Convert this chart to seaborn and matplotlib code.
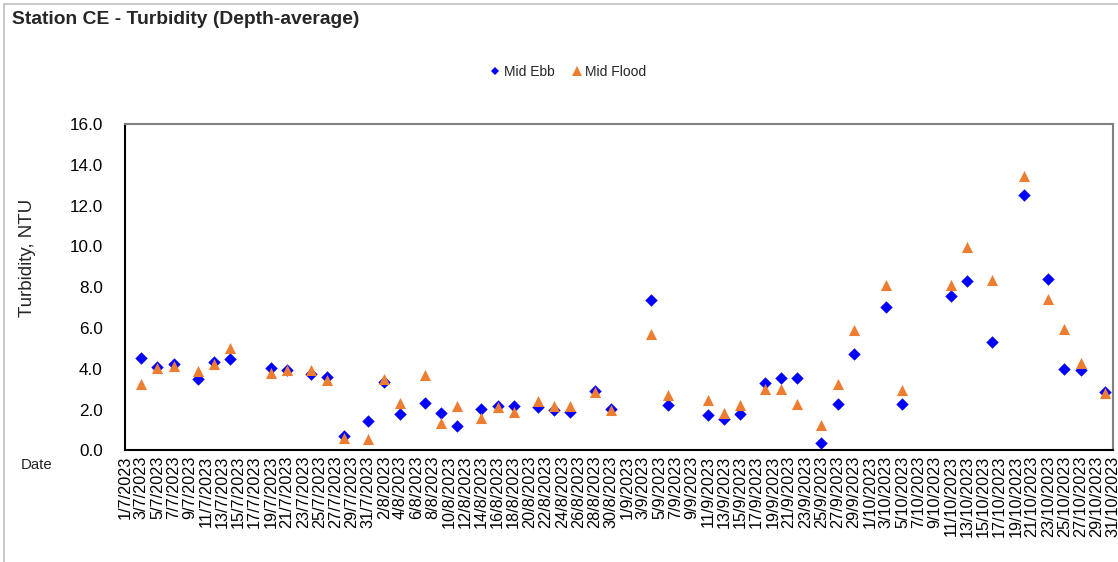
import matplotlib
matplotlib.use("Agg")
import matplotlib.pyplot as plt
from matplotlib.lines import Line2D
import pandas as pd
import seaborn as sns

# ---------------- data ----------------
dates = ["3/7/2023", "5/7/2023", "7/7/2023", "10/7/2023", "12/7/2023", "14/7/2023",
         "19/7/2023", "21/7/2023", "24/7/2023", "26/7/2023", "28/7/2023", "31/7/2023",
         "2/8/2023", "4/8/2023", "7/8/2023", "9/8/2023", "11/8/2023", "14/8/2023",
         "16/8/2023", "18/8/2023", "21/8/2023", "23/8/2023", "25/8/2023", "28/8/2023",
         "30/8/2023", "4/9/2023", "6/9/2023", "11/9/2023", "13/9/2023", "15/9/2023",
         "18/9/2023", "20/9/2023", "22/9/2023", "25/9/2023", "27/9/2023", "29/9/2023",
         "3/10/2023", "5/10/2023", "11/10/2023", "13/10/2023", "16/10/2023", "20/10/2023",
         "23/10/2023", "25/10/2023", "27/10/2023", "30/10/2023"]
mid_ebb = [4.54, 4.08, 4.24, 3.49, 4.33, 4.46,
           4.05, 3.92, 3.74, 3.58, 0.69, 1.45,
           3.36, 1.76, 2.32, 1.83, 1.21, 2.04,
           2.19, 2.17, 2.11, 1.98, 1.88, 2.91,
           2.01, 7.35, 2.24, 1.72, 1.52, 1.76,
           3.28, 3.53, 3.56, 0.34, 2.27, 4.72,
           7.02, 2.27, 7.56, 8.30, 5.31, 12.50,
           8.41, 3.99, 3.94, 2.87]
mid_flood = [3.25, 4.05, 4.11, 3.90, 4.25, 5.01,
             3.77, 3.94, 3.96, 3.47, 0.59, 0.57,
             3.52, 2.30, 3.69, 1.35, 2.16, 1.58,
             2.12, 1.89, 2.42, 2.18, 2.18, 2.87,
             1.98, 5.70, 2.70, 2.45, 1.83, 2.20,
             3.00, 3.00, 2.25, 1.22, 3.23, 5.90,
             8.09, 2.97, 8.09, 9.99, 8.33, 13.44,
             7.42, 5.96, 4.30, 2.82]
series_names = ["Mid Ebb", "Mid Flood"]
title = "Station CE - Turbidity (Depth-average)"
y_label = "Turbidity, NTU"
x_label = "Date"
y_ticks = [0.0, 2.0, 4.0, 6.0, 8.0, 10.0, 12.0, 14.0, 16.0]
x_start, x_end = "1/7/2023", "31/10/2023"

# ---------------- style ----------------
sns.set_theme(style="white")
plt.rcParams['font.family'] = ['Liberation Sans', 'DejaVu Sans']

W, H = 1118, 562
fig = plt.figure(figsize=(W / 100, H / 100), dpi=100)
fig.patch.set_facecolor("white")

ax = fig.add_axes([125 / W, 1 - 450.3 / H, (1113 - 125) / W, (450.3 - 124) / H])

dt = pd.to_datetime(dates, format="%d/%m/%Y")
df_e = pd.DataFrame({"Date": dt, "Turbidity": mid_ebb})
df_f = pd.DataFrame({"Date": dt, "Turbidity": mid_flood})

ebb_color = "#0000FF"
flood_color = "#ED7D31"
sns.scatterplot(data=df_e, x="Date", y="Turbidity", marker="D", s=40,
                color=ebb_color, linewidth=0, ax=ax, legend=False, zorder=3)
sns.scatterplot(data=df_f, x="Date", y="Turbidity", marker="^", s=64,
                color=flood_color, linewidth=0, ax=ax, legend=False, zorder=4)

x0 = pd.to_datetime(x_start, format="%d/%m/%Y")
x1 = pd.to_datetime(x_end, format="%d/%m/%Y")
ax.set_xlim(x0, x1)
ax.set_ylim(y_ticks[0], y_ticks[-1])

tick_dates = pd.date_range(x0, x1, freq="2D")
ax.set_xticks(tick_dates)
ax.set_xticklabels([f"{d.day}/{d.month}/{d.year}" for d in tick_dates],
                   rotation=90, fontsize=11.7)
ax.set_yticks(y_ticks)
ax.set_yticklabels([f"{v:.1f}" for v in y_ticks], fontsize=12.3)

ax.tick_params(axis="x", direction="in", length=3.6, width=0.8, color="#808080",
               pad=4, labelcolor="black")
ax.tick_params(axis="y", direction="in", length=3.6, width=0.8, color="#808080",
               pad=16, labelcolor="black")
ax.set_xlabel("")
ax.set_ylabel("")

for side in ["left", "bottom"]:
    ax.spines[side].set_color("black")
    ax.spines[side].set_linewidth(1.5)
for side in ["top", "right"]:
    ax.spines[side].set_color("#808080")
    ax.spines[side].set_linewidth(1.5)
ax.grid(False)

# texts
fig.text(12 / W, 1 - 20 / H, title, fontsize=13.9, fontweight="bold",
         ha="left", va="center")
fig.text(28 / W, 1 - 258 / H, y_label, rotation=90, fontsize=13.5,
         ha="center", va="center")
fig.text(21 / W, 1 - 465 / H, x_label, fontsize=10.8, ha="left", va="center")

# legend
handles = [Line2D([], [], linestyle="none", marker="D", markersize=4.5,
                  markerfacecolor=ebb_color, markeredgewidth=0),
           Line2D([], [], linestyle="none", marker="^", markersize=6.5,
                  markerfacecolor=flood_color, markeredgewidth=0)]
fig.legend(handles, series_names, loc="center", bbox_to_anchor=(568 / W, 1 - 72 / H),
           ncol=2, frameon=False, fontsize=10, handlelength=0.8,
           handletextpad=0.2, columnspacing=1.2)

# outer chart frame
fig.add_artist(Line2D([4 / W, 4 / W], [0, 1 - 4 / H], transform=fig.transFigure,
                      color="#BFBFBF", linewidth=1.2))
fig.add_artist(Line2D([4 / W, 1], [1 - 4 / H, 1 - 4 / H], transform=fig.transFigure,
                      color="#BFBFBF", linewidth=1.2))

fig.savefig("out.png", dpi=100)
